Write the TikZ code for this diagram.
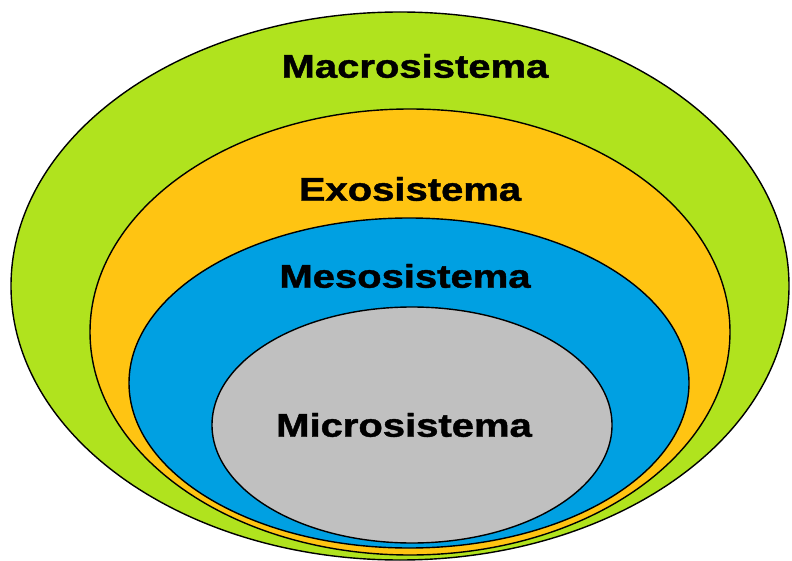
\documentclass[tikz,border=0pt]{standalone}
\usepackage{fontspec}
\setmainfont{Liberation Sans}
\newfontfamily\rotulofont[BoldFeatures={FakeBold=1.2}]{Liberation Sans}
\usepackage{tikz}

\definecolor{verdemacro}{RGB}{176,227,30}
\definecolor{amarilloexo}{RGB}{255,196,18}
\definecolor{azulmeso}{RGB}{0,160,226}
\definecolor{grismicro}{RGB}{192,192,192}

\begin{document}
\begin{tikzpicture}[x=1pt,y=-1pt,
  capa/.style={draw=black,line width=1.4pt},
  rotulo/.style={font=\rotulofont\fontsize{40}{42}\selectfont\bfseries,text=black,inner sep=0pt}]
  \useasboundingbox (0,0) rectangle (792,561);
  % capas
  \draw[capa,fill=verdemacro]  (400,286) ellipse [x radius=389,y radius=274];
  \draw[capa,fill=amarilloexo] (410,332) ellipse [x radius=320,y radius=223];
  \draw[capa,fill=azulmeso]    (409,383) ellipse [x radius=280,y radius=165];
  \draw[capa,fill=grismicro]   (412,425) ellipse [x radius=200,y radius=118];
  % rotulos
  \node[rotulo] (macro) at (415,66)  {\scalebox{1}[0.82]{Macrosistema}};
  \node[rotulo] (exo)   at (410,189) {\scalebox{1}[0.82]{Exosistema}};
  \node[rotulo] (meso)  at (405,276) {\scalebox{1}[0.82]{Mesosistema}};
  \node[rotulo] (micro) at (404,425) {\scalebox{1}[0.82]{Microsistema}};
\end{tikzpicture}
\end{document}
